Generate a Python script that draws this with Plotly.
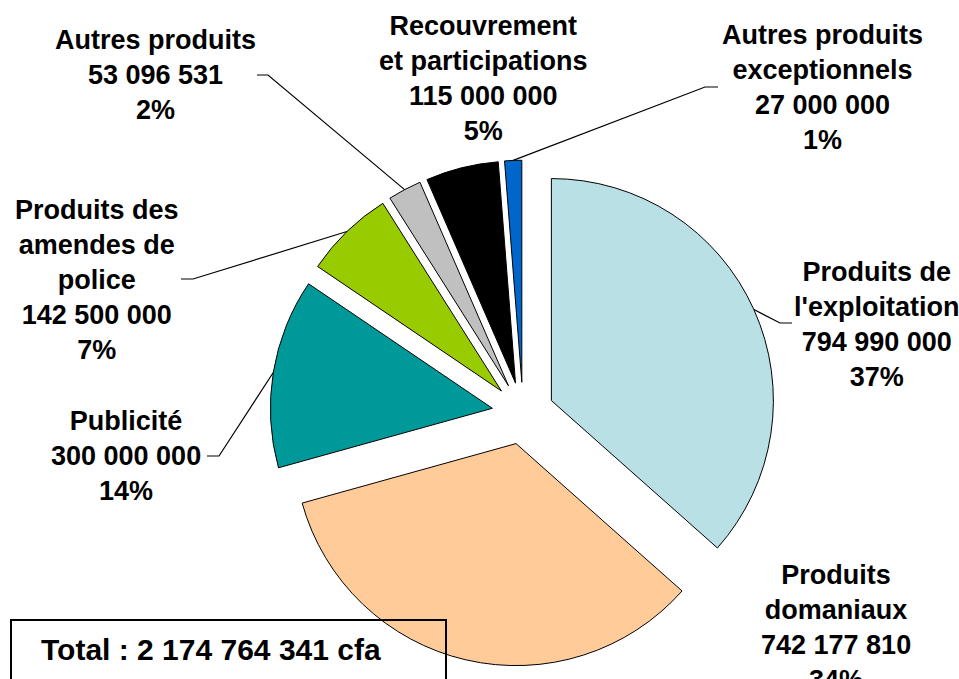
import math
import plotly.graph_objects as go

# ---------------- data ----------------
categories = ["Produits de l'exploitation", "Produits domaniaux", "Publicité",
              "Produits des amendes de police", "Autres produits",
              "Recouvrement et participations", "Autres produits exceptionnels"]
display_names = ["Produits de<br>l'exploitation", "Produits<br>domaniaux", "Publicité",
                 "Produits des<br>amendes de<br>police", "Autres produits",
                 "Recouvrement<br>et participations", "Autres produits<br>exceptionnels"]
values = [794990000, 742177810, 300000000, 142500000, 53096531, 115000000, 27000000]
colors = ["#B9E0E4", "#FFCC99", "#009999", "#99CC00", "#C0C0C0", "#000000", "#0066CC"]
currency = "cfa"

# ---------------- layout constants ----------------
W, H = 959, 679
DOM_X = [0.2815, 0.8093]
DOM_Y = [0.0185, 0.7641]
PULL = 0.14
FONT = "Arial, 'Liberation Sans', sans-serif"

# label block centres (px) per slice
label_pos = [(876, 324), (836, 627), (126, 456), (97, 280), (155, 75), (483, 78), (822, 88)]
# leader lines: slice index -> (elbow px, end px)
leaders = {0: ((780, 323), (792, 323)),
           2: ((219, 456), (207, 456)),
           3: ((193, 279), (181, 279)),
           4: ((268, 75), (257, 75)),
           6: ((705, 87), (718, 87))}


def fmt(n):
    return f"{n:,}".replace(",", " ")


total = sum(values)
cx = W * (DOM_X[0] + DOM_X[1]) / 2
cy = H * (1 - DOM_Y[0]) - H * (DOM_Y[1] - DOM_Y[0]) / 2
r = min(W * (DOM_X[1] - DOM_X[0]), H * (DOM_Y[1] - DOM_Y[0])) / 2 / (1 + PULL)


def px2paper(x, y):
    return x / W, 1 - y / H


fig = go.Figure(go.Pie(
    labels=categories, values=values, sort=False, direction="clockwise", rotation=0,
    pull=[PULL] * len(values),
    marker=dict(colors=colors, line=dict(color="#000000", width=1)),
    textinfo="none", hoverinfo="label+value+percent",
    domain=dict(x=DOM_X, y=DOM_Y), showlegend=False,
))

annotations = []
shapes = []
cum = 0
for i, v in enumerate(values):
    frac = v / total
    mid = (cum + frac / 2) * 2 * math.pi
    cum += frac
    ux, uy = math.sin(mid), -math.cos(mid)
    # point on the outer arc of the pulled slice
    ex = cx + ux * r * (1 + PULL)
    ey = cy + uy * r * (1 + PULL)
    pct = round(frac * 100)
    txt = f"<b>{display_names[i]}<br>{fmt(v)}<br>{pct}%</b>"
    lx, ly = px2paper(*label_pos[i])
    annotations.append(dict(x=lx, y=ly, xref="paper", yref="paper", text=txt,
                            showarrow=False, xanchor="center", yanchor="middle",
                            font=dict(family=FONT, size=27, color="#000000")))
    if i in leaders:
        (bx, by), (tx, ty) = leaders[i]
        p = [px2paper(ex, ey), px2paper(bx, by), px2paper(tx, ty)]
        path = "M {:.5f},{:.5f} L {:.5f},{:.5f} L {:.5f},{:.5f}".format(
            p[0][0], p[0][1], p[1][0], p[1][1], p[2][0], p[2][1])
        shapes.append(dict(type="path", xref="paper", yref="paper", path=path,
                           line=dict(color="#000000", width=1.2)))

# total box
bx0, by0 = px2paper(11, 620)
bx1, by1 = px2paper(446, 700)
shapes.append(dict(type="rect", xref="paper", yref="paper", x0=bx0, y0=by1, x1=bx1, y1=by0,
                   line=dict(color="#000000", width=2), fillcolor="rgba(255,255,255,0)"))
tx, ty = px2paper(211, 649)
annotations.append(dict(x=tx, y=ty, xref="paper", yref="paper",
                        text=f"<b>Total : {fmt(total)} {currency}</b>", showarrow=False,
                        xanchor="center", yanchor="middle",
                        font=dict(family=FONT, size=30, color="#000000")))

fig.update_layout(width=W, height=H, margin=dict(l=0, r=0, t=0, b=0),
                  paper_bgcolor="#FFFFFF", plot_bgcolor="#FFFFFF",
                  annotations=annotations, shapes=shapes)

fig.write_html("out.html")
